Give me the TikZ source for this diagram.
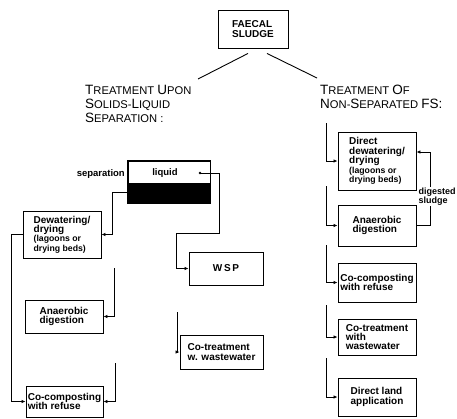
\documentclass[tikz,border=0pt]{standalone}
\usepackage{fontspec}
\setmainfont{Liberation Sans}
\usetikzlibrary{arrows.meta,calc}
\newcommand\Bc[1]{{\fontsize{13.5}{14}\selectfont #1}}
\newcommand\smf{\fontsize{8.7}{9.2}\selectfont}
\begin{document}
\begin{tikzpicture}[x=1pt,y=-1pt,
  box/.style={draw,line width=0.9pt,inner sep=0pt,font=\bfseries\fontsize{10}{9.4}\selectfont,align=left},
  lbl/.style={inner sep=0pt,font=\bfseries\fontsize{9.5}{9.4}\selectfont,align=left},
  conn/.style={line width=0.9pt},
  arr/.style={conn,-{Latex[length=4pt,width=3.5pt]}},
  head/.style={align=left,inner sep=0pt,anchor=north west,font=\fontsize{11.2}{14}\selectfont}
]
\useasboundingbox (0,0) rectangle (457,418);

% top
\node[box,minimum width=70,minimum height=38] (fs) at (253,29) {FAECAL\\SLUDGE};
\node[head] (hl) at (85,85.3) {\Bc{T}REATMENT \Bc{U}PON\\\Bc{S}OLIDS-\Bc{L}IQUID\\\Bc{S}EPARATION :};
\node[head] (hr) at (320,85.3) {\Bc{T}REATMENT \Bc{O}F\\\Bc{N}ON-\Bc{S}EPARATED \Bc{FS:}};
\coordinate (hlend) at (198,79);
\coordinate (hrend) at (317,78);
\draw[conn] ([xshift=-5pt,yshift=-5pt]fs.south) -- (hlend);
\draw[conn] ([xshift=14pt,yshift=-5pt]fs.south) -- (hrend);

% separation unit
\node[box,minimum width=82,minimum height=42] (sep) at (169,182) {};
\fill ([yshift=-1pt]sep.west) rectangle (sep.south east);
\draw[line width=0.9pt] (sep.north west) rectangle (sep.south east);
\node[lbl,anchor=base] (liq) at (165,175) {liquid};
\node[lbl,anchor=base east] (seplbl) at (125,176) {separation};
\coordinate (liqdot) at (200,173);
\fill (liqdot) circle (1.4);

% left column
\node[box,minimum width=78,minimum height=47] (dewL) at (62,234.5) {Dewatering/\\drying\\{\smf (lagoons or}\\{\smf drying beds)}};
\node[box,minimum width=78,minimum height=33] (anL) at (64,316.5) {Anaerobic\\digestion};
\node[box,minimum width=77,minimum height=31] (cocL) at (64.5,401.5) {Co-composting\\with refuse};
\node[box,minimum width=74,minimum height=33] (wsp) at (226,268.5) {W\,S\,P};
\node[box,minimum width=83,minimum height=34] (ctL) at (221.5,352) {Co-treatment\\w. wastewater};

\draw[arr] ([yshift=-10pt]sep.west) -| ($(dewL.east)+(11,0)$) -- (dewL.east);
\draw[arr] (liqdot) -- (219,173) |- (176,233) |- (wsp.west);
\draw[arr] (dewL.west) -- ++(-11,0) |- (cocL.west);
\coordinate (fa1) at (114,268);
\draw[arr] (fa1) |- (anL.east);
\coordinate (fa2) at (115,363);
\draw[arr] (fa2) |- (cocL.east);
\coordinate (fa3) at (177,312);
\draw[arr] (fa3) |- (ctL.west);

% right column
\node[box,minimum width=78,minimum height=58] (ddR) at (377,161) {Direct\\dewatering/\\drying\\{\smf (lagoons or}\\{\smf drying beds)}};
\node[box,minimum width=78,minimum height=41] (anR) at (377,225.5) {Anaerobic\\digestion};
\node[box,minimum width=78,minimum height=39] (cocR) at (377,282.5) {Co-composting\\with refuse};
\node[box,minimum width=78,minimum height=36] (ctR) at (377,337) {Co-treatment\\with\\wastewater};
\node[box,minimum width=78,minimum height=38] (dlR) at (377,397) {Direct land\\application};

\coordinate (fr1) at (326,123);
\draw[arr] (fr1) |- (ddR.west);
\coordinate (fr2) at (326,186);
\draw[arr] (fr2) |- (anR.west);
\coordinate (fr3) at (326,245);
\draw[arr] (fr3) |- (cocR.west);
\coordinate (fr4) at (326,305);
\draw[arr] (fr4) |- (ctR.west);
\coordinate (fr5) at (326,358);
\draw[arr] (fr5) |- (dlR.west);
\draw[arr] (anR.east) -- ++(14,0) |- ([yshift=9pt]ddR.east);
\node[lbl,anchor=north west,fill=white,inner sep=0.8pt,font=\bfseries\fontsize{9}{9.4}\selectfont] (dig) at (417.5,186.5) {digested\\sludge};
\end{tikzpicture}
\end{document}
